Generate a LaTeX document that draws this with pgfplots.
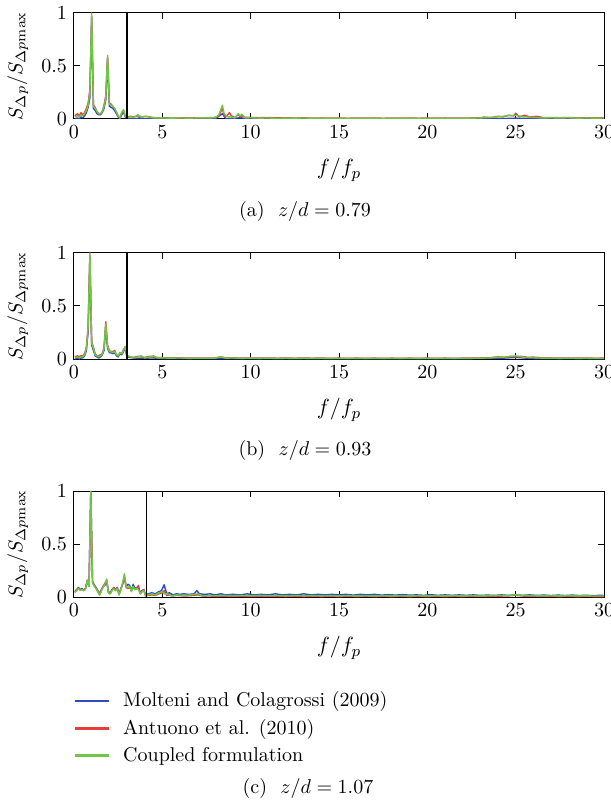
\documentclass[border=0pt]{standalone}
\usepackage{pgfplots}
\pgfplotsset{compat=1.18}
\definecolor{cblue}{RGB}{45,75,195}
\definecolor{cred}{RGB}{235,60,60}
\definecolor{cgreen}{RGB}{110,200,70}
\pgfplotsset{
  panel/.style={
    scale only axis, width=265pt, height=53pt,
    xmin=0, xmax=30, ymin=0, ymax=1,
    xtick={0,5,10,15,20,25,30}, ytick={0,0.5,1},
    xtick pos=both, ytick pos=both, tick align=inside,
    major tick length=3pt,
    axis line style={line width=0.5pt},
    every tick/.style={black, line width=0.5pt},
    tick label style={font=\fontsize{10}{12}\selectfont},
    xlabel={$f/f_p$},
    ylabel={$S_{\Delta p}/S_{\Delta p\mathrm{max}}$},
    xlabel style={at={(axis description cs:0.5,-0.48)}, anchor=center, font=\fontsize{11}{13}\selectfont},
    ylabel style={at={(axis description cs:-0.106,0.5)}, anchor=center},
    every axis plot/.append style={line width=0.7pt, line join=round},
    clip=true,
  },
}
\begin{document}
\begin{tikzpicture}
% ---------------- panel (a) ----------------
\begin{axis}[panel, at={(37pt,-6.5pt)}, anchor=north west]
\addplot[cblue] coordinates {(0.05,0.0)(0.2,0.01)(0.3,0.0)(0.4,0.02)(0.5,0.01)(0.6,0.03)(0.7,0.06)(0.8,0.11)(0.9,0.2)(1.0,0.97)(1.1,0.1)(1.2,0.08)(1.3,0.05)(1.4,0.04)(1.5,0.04)(1.6,0.06)(1.7,0.1)(1.8,0.18)(1.9,0.57)(2.0,0.12)(2.1,0.11)(2.2,0.1)(2.3,0.08)(2.4,0.05)(2.5,0.02)(2.6,0.0)(2.7,0.04)(2.8,0.07)(2.9,0.02)(3.0,0.0)(3.5,0.002)(3.7,0.01)(4,0.002)(5,0.001)(6,0.002)(7,0.001)(8,0.002)(8.4,0.05)(8.6,0.002)(9.3,0.01)(9.5,0.01)(9.7,0.002)(12,0.001)(15,0.002)(18,0.001)(21,0.002)(24,0.002)(25,0.008)(26,0.002)(30,0.001)};
\addplot[cred] coordinates {(0.05,0.03)(0.2,0.05)(0.3,0.03)(0.4,0.06)(0.5,0.04)(0.6,0.06)(0.7,0.1)(0.8,0.15)(0.9,0.28)(1.0,0.95)(1.1,0.13)(1.2,0.11)(1.3,0.07)(1.4,0.05)(1.5,0.05)(1.6,0.07)(1.7,0.13)(1.8,0.22)(1.9,0.58)(2.0,0.15)(2.1,0.14)(2.2,0.12)(2.3,0.1)(2.4,0.06)(2.5,0.03)(2.6,0.01)(2.7,0.06)(2.8,0.08)(2.9,0.03)(3.0,0.015)(3.2,0.025)(3.4,0.02)(3.6,0.03)(3.7,0.025)(3.9,0.02)(4.1,0.025)(4.4,0.015)(4.8,0.01)(5.2,0.012)(5.6,0.008)(6,0.01)(6.5,0.012)(7,0.009)(7.5,0.012)(8,0.015)(8.2,0.03)(8.4,0.1)(8.5,0.03)(8.6,0.02)(8.8,0.06)(8.9,0.03)(9.1,0.015)(9.3,0.04)(9.4,0.02)(9.5,0.03)(9.7,0.015)(10,0.015)(10.5,0.012)(11,0.014)(11.5,0.01)(12,0.012)(12.5,0.009)(13,0.012)(13.5,0.008)(14,0.01)(14.5,0.008)(15,0.01)(15.5,0.007)(16,0.009)(16.5,0.008)(17,0.01)(17.5,0.007)(18,0.009)(18.5,0.008)(19,0.01)(19.5,0.007)(20,0.009)(20.5,0.008)(21,0.01)(21.5,0.008)(22,0.009)(22.5,0.01)(23,0.012)(23.2,0.018)(23.6,0.012)(24,0.025)(24.3,0.02)(24.6,0.035)(24.9,0.03)(25.0,0.055)(25.2,0.02)(25.5,0.035)(25.8,0.02)(26.2,0.025)(26.6,0.012)(27,0.014)(27.5,0.012)(28,0.014)(28.5,0.01)(29,0.012)(29.5,0.01)(30,0.012)};
\addplot[cgreen] coordinates {(0.05,0.02)(0.2,0.03)(0.3,0.02)(0.4,0.04)(0.5,0.03)(0.6,0.05)(0.7,0.08)(0.8,0.13)(0.9,0.25)(1.0,1.0)(1.1,0.12)(1.2,0.10)(1.3,0.07)(1.4,0.05)(1.5,0.05)(1.6,0.07)(1.7,0.12)(1.8,0.2)(1.9,0.6)(2.0,0.14)(2.1,0.13)(2.2,0.12)(2.3,0.1)(2.4,0.07)(2.5,0.03)(2.6,0.01)(2.7,0.06)(2.8,0.09)(2.9,0.03)(3.0,0.01)(3.2,0.02)(3.4,0.015)(3.6,0.04)(3.7,0.03)(3.8,0.02)(4.0,0.025)(4.2,0.02)(4.5,0.01)(5,0.01)(5.5,0.008)(6,0.01)(6.5,0.008)(7,0.01)(7.5,0.01)(8,0.012)(8.2,0.04)(8.4,0.13)(8.5,0.05)(8.7,0.02)(8.9,0.02)(9.1,0.01)(9.3,0.05)(9.4,0.03)(9.5,0.045)(9.7,0.01)(10,0.012)(10.5,0.008)(11,0.01)(11.5,0.006)(12,0.009)(12.5,0.007)(13,0.01)(13.5,0.006)(14,0.008)(14.5,0.006)(15,0.008)(15.5,0.005)(16,0.007)(16.5,0.006)(17,0.008)(17.5,0.005)(18,0.007)(18.5,0.006)(19,0.008)(19.5,0.006)(20,0.007)(20.5,0.006)(21,0.008)(21.5,0.006)(22,0.007)(22.5,0.008)(23,0.01)(23.5,0.015)(24,0.02)(24.5,0.03)(25,0.035)(25.5,0.02)(26,0.015)(26.5,0.01)(27,0.012)(27.5,0.01)(28,0.012)(28.5,0.008)(29,0.01)(29.5,0.008)(30,0.01)};
\addplot[black, line width=0.6pt] coordinates {(3,0)(3,1)};
\end{axis}
% ---------------- panel (b) ----------------
\begin{axis}[panel, at={(37pt,-126.5pt)}, anchor=north west]
\addplot[cblue] coordinates {(0.05,0.0)(0.2,0.01)(0.3,0.0)(0.4,0.01)(0.5,0.01)(0.6,0.03)(0.7,0.08)(0.8,0.26)(0.9,0.97)(1.0,0.13)(1.1,0.08)(1.2,0.03)(1.3,0.02)(1.4,0.01)(1.5,0.02)(1.6,0.04)(1.7,0.08)(1.8,0.31)(1.9,0.1)(2.0,0.06)(2.1,0.06)(2.2,0.05)(2.3,0.06)(2.4,0.03)(2.5,0.02)(2.6,0.05)(2.7,0.04)(2.8,0.07)(2.9,0.1)(3.0,0.02)(3.5,0.005)(4,0.008)(4.5,0.01)(5,0.003)(6,0.004)(7,0.003)(8,0.004)(9,0.003)(10,0.004)(12,0.003)(14,0.004)(16,0.003)(18,0.004)(20,0.003)(22,0.004)(24,0.005)(25,0.015)(26,0.004)(28,0.003)(30,0.003)};
\addplot[cred] coordinates {(0.05,0.02)(0.2,0.03)(0.3,0.02)(0.4,0.03)(0.5,0.03)(0.6,0.05)(0.7,0.11)(0.8,0.3)(0.9,0.98)(1.0,0.16)(1.1,0.11)(1.2,0.05)(1.3,0.03)(1.4,0.03)(1.5,0.04)(1.6,0.05)(1.7,0.11)(1.8,0.35)(1.9,0.13)(2.0,0.08)(2.1,0.07)(2.2,0.07)(2.3,0.08)(2.4,0.04)(2.5,0.03)(2.6,0.06)(2.7,0.05)(2.8,0.09)(2.9,0.11)(3.0,0.03)(3.2,0.02)(3.4,0.015)(3.6,0.025)(3.8,0.02)(4.0,0.015)(4.3,0.025)(4.5,0.02)(4.7,0.015)(5,0.012)(5.5,0.01)(6,0.012)(6.5,0.008)(7,0.01)(7.5,0.008)(8,0.01)(8.3,0.02)(8.6,0.01)(9,0.012)(9.5,0.008)(10,0.01)(10.5,0.008)(11,0.01)(11.5,0.007)(12,0.009)(12.5,0.007)(13,0.009)(13.5,0.007)(14,0.009)(14.5,0.006)(15,0.008)(15.5,0.006)(16,0.008)(16.5,0.006)(17,0.008)(17.5,0.006)(18,0.008)(18.5,0.006)(19,0.008)(19.5,0.006)(20,0.008)(20.5,0.006)(21,0.008)(21.5,0.006)(22,0.008)(22.5,0.008)(23,0.01)(23.5,0.012)(24,0.02)(24.4,0.015)(24.7,0.025)(25,0.02)(25.3,0.025)(25.7,0.015)(26,0.018)(26.5,0.01)(27,0.01)(27.5,0.008)(28,0.01)(28.5,0.008)(29,0.009)(29.5,0.007)(30,0.008)};
\addplot[cgreen] coordinates {(0.05,0.01)(0.2,0.02)(0.3,0.01)(0.4,0.02)(0.5,0.02)(0.6,0.04)(0.7,0.1)(0.8,0.3)(0.9,1.0)(1.0,0.15)(1.1,0.1)(1.2,0.04)(1.3,0.03)(1.4,0.02)(1.5,0.03)(1.6,0.05)(1.7,0.1)(1.8,0.33)(1.9,0.12)(2.0,0.07)(2.1,0.07)(2.2,0.06)(2.3,0.07)(2.4,0.04)(2.5,0.03)(2.6,0.06)(2.7,0.05)(2.8,0.08)(2.9,0.12)(3.0,0.03)(3.2,0.02)(3.4,0.01)(3.6,0.02)(3.8,0.03)(4.0,0.01)(4.3,0.02)(4.5,0.03)(4.7,0.01)(5,0.01)(5.5,0.008)(6,0.01)(6.5,0.006)(7,0.008)(7.5,0.007)(8,0.008)(8.3,0.02)(8.6,0.008)(9,0.01)(9.5,0.006)(10,0.008)(10.5,0.006)(11,0.008)(11.5,0.005)(12,0.007)(12.5,0.005)(13,0.007)(13.5,0.005)(14,0.007)(14.5,0.005)(15,0.006)(15.5,0.005)(16,0.006)(16.5,0.005)(17,0.006)(17.5,0.005)(18,0.006)(18.5,0.005)(19,0.006)(19.5,0.005)(20,0.006)(20.5,0.005)(21,0.006)(21.5,0.005)(22,0.006)(22.5,0.006)(23,0.008)(23.5,0.01)(24,0.015)(24.5,0.02)(25,0.03)(25.5,0.015)(26,0.012)(26.5,0.008)(27,0.008)(27.5,0.006)(28,0.008)(28.5,0.006)(29,0.007)(29.5,0.005)(30,0.006)};
\addplot[black, line width=0.6pt] coordinates {(3,0)(3,1)};
\end{axis}
% ---------------- panel (c) ----------------
\begin{axis}[panel, at={(37pt,-245.5pt)}, anchor=north west,
  legend style={at={(axis description cs:0,-0.853)}, anchor=north west, draw=none, fill=none,
    inner sep=0pt, row sep=0.8pt, font=\fontsize{10}{12}\selectfont, cells={anchor=west}},
  legend cell align=left,
  legend image code/.code={\draw[line width=1.1pt] (0pt,0pt) -- (17pt,0pt); \path (21.5pt,0pt);}]
\addlegendimage{color=cblue}
\addlegendentry{Molteni and Colagrossi (2009)}
\addlegendimage{color=cred}
\addlegendentry{Antuono et al. (2010)}
\addlegendimage{color=cgreen}
\addlegendentry{Coupled formulation}
\addplot[cblue, forget plot] coordinates {(0.05,0.05)(0.15,0.07)(0.25,0.09)(0.35,0.07)(0.45,0.08)(0.55,0.06)(0.65,0.08)(0.75,0.15)(0.85,0.1)(0.95,0.99)(1.05,0.14)(1.15,0.11)(1.25,0.09)(1.35,0.06)(1.45,0.03)(1.55,0.07)(1.65,0.1)(1.75,0.11)(1.85,0.15)(1.95,0.05)(2.05,0.04)(2.15,0.07)(2.25,0.09)(2.35,0.07)(2.45,0.09)(2.55,0.03)(2.65,0.08)(2.75,0.12)(2.85,0.19)(2.95,0.1)(3.05,0.12)(3.15,0.11)(3.25,0.06)(3.35,0.12)(3.45,0.08)(3.55,0.09)(3.65,0.08)(3.75,0.04)(3.85,0.06)(3.95,0.07)(4.05,0.02)(4.2,0.03)(4.4,0.04)(4.6,0.03)(4.8,0.05)(4.95,0.06)(5.1,0.115)(5.25,0.03)(5.4,0.04)(5.6,0.02)(5.8,0.03)(6.0,0.025)(6.2,0.03)(6.5,0.025)(6.8,0.03)(6.95,0.06)(7.1,0.03)(7.4,0.025)(7.7,0.03)(8,0.02)(8.3,0.03)(8.6,0.02)(9,0.025)(9.4,0.02)(9.8,0.03)(10.2,0.02)(10.6,0.025)(11,0.02)(11.4,0.03)(11.8,0.02)(12.2,0.025)(12.6,0.02)(13,0.03)(13.4,0.02)(13.8,0.025)(14.2,0.02)(14.6,0.025)(15,0.02)(15.4,0.025)(15.8,0.018)(16.2,0.025)(16.6,0.02)(17,0.025)(17.4,0.018)(17.8,0.022)(18.2,0.018)(18.6,0.022)(19,0.018)(19.4,0.02)(19.8,0.016)(20.2,0.022)(20.6,0.016)(21,0.02)(21.4,0.016)(21.8,0.02)(22.2,0.016)(22.6,0.02)(23,0.015)(23.4,0.018)(23.8,0.015)(24.2,0.02)(24.6,0.015)(25,0.02)(25.4,0.016)(25.8,0.02)(26.2,0.015)(26.6,0.018)(27,0.014)(27.4,0.018)(27.8,0.014)(28.2,0.018)(28.6,0.014)(29,0.016)(29.4,0.013)(29.8,0.016)(30,0.014)};
\addplot[cred, forget plot] coordinates {(0.05,0.05)(0.15,0.07)(0.25,0.08)(0.35,0.07)(0.45,0.07)(0.55,0.07)(0.65,0.08)(0.75,0.16)(0.85,0.11)(0.95,0.98)(1.05,0.15)(1.15,0.11)(1.25,0.08)(1.35,0.05)(1.45,0.02)(1.55,0.06)(1.65,0.1)(1.75,0.13)(1.85,0.16)(1.95,0.04)(2.05,0.03)(2.15,0.06)(2.25,0.09)(2.35,0.06)(2.45,0.09)(2.55,0.02)(2.65,0.07)(2.75,0.12)(2.85,0.2)(2.95,0.09)(3.05,0.08)(3.15,0.09)(3.25,0.06)(3.35,0.09)(3.45,0.07)(3.55,0.08)(3.65,0.11)(3.75,0.03)(3.85,0.05)(3.95,0.07)(4.05,0.01)(4.2,0.015)(4.4,0.02)(4.6,0.015)(4.8,0.03)(5.0,0.04)(5.1,0.06)(5.25,0.015)(5.4,0.02)(5.6,0.01)(5.8,0.015)(6.2,0.01)(6.6,0.012)(7.0,0.02)(7.3,0.008)(7.7,0.01)(8,0.006)(8.5,0.008)(9,0.005)(9.5,0.007)(10,0.005)(10.5,0.007)(11,0.005)(11.5,0.006)(12,0.004)(12.5,0.006)(13,0.004)(13.5,0.006)(14,0.004)(14.5,0.005)(15,0.004)(15.5,0.005)(16,0.004)(16.5,0.005)(17,0.004)(17.5,0.005)(18,0.004)(18.5,0.005)(19,0.004)(19.5,0.005)(20,0.004)(20.5,0.005)(21,0.004)(21.5,0.005)(22,0.004)(22.5,0.005)(23,0.005)(23.5,0.006)(24,0.008)(24.5,0.01)(25,0.015)(25.5,0.008)(26,0.006)(26.5,0.005)(27,0.005)(27.5,0.004)(28,0.005)(28.5,0.004)(29,0.005)(29.5,0.004)(30,0.004)};
\addplot[cgreen, forget plot] coordinates {(0.05,0.04)(0.15,0.06)(0.25,0.08)(0.35,0.06)(0.45,0.07)(0.55,0.06)(0.65,0.07)(0.75,0.16)(0.85,0.1)(0.95,1.0)(1.05,0.13)(1.15,0.1)(1.25,0.08)(1.35,0.05)(1.45,0.02)(1.55,0.06)(1.65,0.09)(1.75,0.12)(1.85,0.17)(1.95,0.04)(2.05,0.03)(2.15,0.06)(2.25,0.08)(2.35,0.06)(2.45,0.08)(2.55,0.02)(2.65,0.07)(2.75,0.13)(2.85,0.22)(2.95,0.1)(3.05,0.09)(3.15,0.1)(3.25,0.05)(3.35,0.1)(3.45,0.07)(3.55,0.08)(3.65,0.07)(3.75,0.03)(3.85,0.05)(3.95,0.06)(4.05,0.01)(4.2,0.02)(4.4,0.03)(4.6,0.02)(4.8,0.04)(5.0,0.05)(5.1,0.03)(5.3,0.03)(5.5,0.01)(5.8,0.02)(6.2,0.015)(6.6,0.02)(7.0,0.03)(7.3,0.01)(7.7,0.015)(8,0.012)(8.5,0.015)(9,0.012)(9.5,0.015)(10,0.012)(10.5,0.015)(11,0.012)(11.5,0.014)(12,0.011)(12.5,0.014)(13,0.011)(13.5,0.013)(14,0.011)(14.5,0.013)(15,0.01)(15.5,0.013)(16,0.01)(16.5,0.012)(17,0.01)(17.5,0.012)(18,0.01)(18.5,0.012)(19,0.01)(19.5,0.012)(20,0.01)(20.5,0.012)(21,0.01)(21.5,0.012)(22,0.01)(22.5,0.012)(23,0.01)(23.5,0.012)(24,0.014)(24.5,0.015)(25,0.02)(25.5,0.014)(26,0.012)(26.5,0.01)(27,0.012)(27.5,0.01)(28,0.012)(28.5,0.01)(29,0.011)(29.5,0.009)(30,0.01)};
\addplot[black, line width=0.6pt, forget plot] coordinates {(4.1,0)(4.1,1)};
\end{axis}
% captions
\node[font=\fontsize{10}{12}\selectfont] at (152.5pt,-106pt) {(a)\ \ $z/d=0.79$};
\node[font=\fontsize{10}{12}\selectfont] at (152.5pt,-225pt) {(b)\ \ $z/d=0.93$};
\node[font=\fontsize{10}{12}\selectfont] at (154pt,-394pt) {(c)\ \ $z/d=1.07$};
\pgfresetboundingbox
\path[use as bounding box] (0pt,0pt) rectangle (305pt,-400.5pt);
\end{tikzpicture}
\end{document}
